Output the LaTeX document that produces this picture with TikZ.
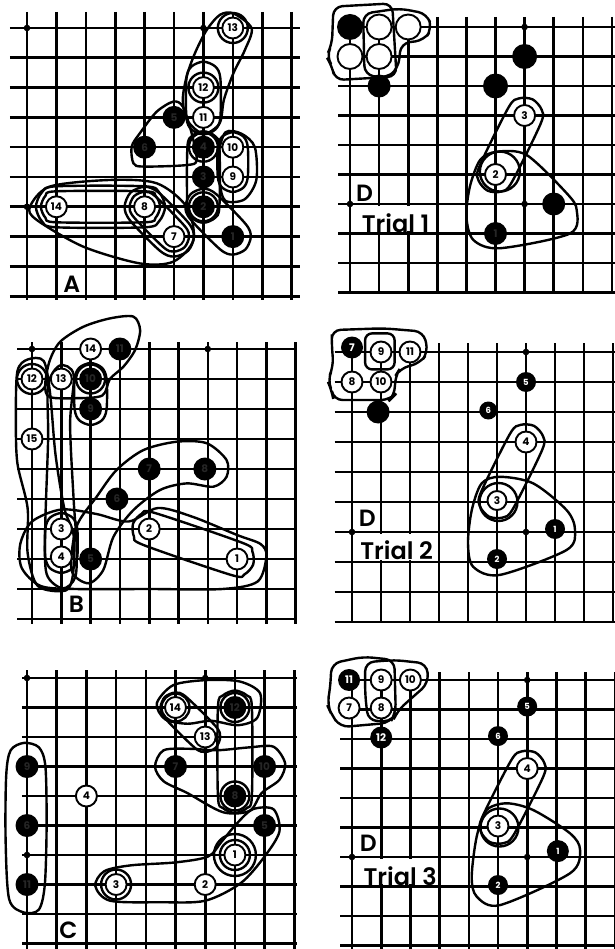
\documentclass[tikz,border=0pt]{standalone}
\usepackage{fontspec}
\setmainfont{Poppins}
\newfontfamily\labfont{Poppins SemiBold}
\usetikzlibrary{calc,backgrounds}

\newcommand{\stonefont}{\bfseries\fontsize{10.5}{10.5}\selectfont}
\newcommand{\smallstonefont}{\bfseries\fontsize{8.5}{8.5}\selectfont}
% closed loop round two stones (or points), #4 = distance from the centres
\newcommand{\capsule}[4][]{%
  \draw[loopline,#1] plot[smooth cycle] coordinates {
    ($(#2)!#4!90:(#3)$) ($(#2)!#4!135:(#3)$) ($(#2)!#4!180:(#3)$)
    ($(#2)!#4!225:(#3)$) ($(#2)!#4!270:(#3)$)
    ($(#3)!#4!90:(#2)$) ($(#3)!#4!135:(#2)$) ($(#3)!#4!180:(#2)$)
    ($(#3)!#4!225:(#2)$) ($(#3)!#4!270:(#2)$)};}

\begin{document}
\begin{tikzpicture}[x=1pt, y=-1pt,
    gridline/.style={line width=2.6pt},
    loopline/.style={line width=2.4pt},
    wstone/.style={circle, draw, line width=1.9pt, fill=white, minimum size=21pt,
                   inner sep=0pt, font=\stonefont},
    bstone/.style={circle, fill=black, minimum size=23pt, inner sep=0pt,
                   font=\stonefont, text=black!85},
    dstone/.style={bstone, minimum size=20pt, font=\smallstonefont, text=white},
    boardlab/.style={font=\labfont\fontsize{23.5}{23.5}\selectfont, inner sep=0pt},
    triallab/.style={font=\labfont\fontsize{24}{24}\selectfont, inner sep=0pt, anchor=base west}
  ]
  \useasboundingbox (0,0) rectangle (614,949);
  \begin{scope}[on background layer]
    \fill[white] (0,0) rectangle (614,949);
  \end{scope}

  % ---------------- A ----------------
  \begin{scope}[shift={(27pt,-28pt)}, x=29.4pt, y=-29.8pt]
    \node[bstone] (a1) at (7,7) {1};
    \node[bstone] (a2) at (6,6) {2};
    \node[bstone] (a3) at (6,5) {3};
    \node[bstone] (a4) at (6,4) {4};
    \node[bstone] (a5) at (5,3) {5};
    \node[bstone] (a6) at (4,4) {6};
    \node[wstone] (a7) at (5,7) {7};
    \node[wstone] (a8) at (4,6) {8};
    \node[wstone] (a9) at (7,5) {9};
    \node[wstone] (a10) at (7,4) {10};
    \node[wstone] (a11) at (6,3) {11};
    \node[wstone] (a12) at (6,2) {12};
    \node[wstone] (a13) at (7,0) {13};
    \node[wstone] (a14) at (1,6) {14};
    \begin{scope}[on background layer]
      \foreach \r in {0,...,9} \draw[gridline] (-0.58,\r) -- (9.3,\r);
      \foreach \c in {0,...,9} \draw[gridline] (\c,-0.54) -- (\c,9.13);
      \foreach \s in {(0,0),(0,6),(6,0),(6,6)} \fill \s circle[radius=3.3pt];
      % loops
      \draw[loopline] plot[smooth cycle] coordinates {(7.02,-0.49) (7.64,0.01) (7.41,0.74)
        (7.02,1.52) (6.7,2.4) (6.55,3.2) (6.0,3.55) (5.45,3.1) (5.3,2.4) (5.43,1.63)
        (5.71,0.85) (6.11,0.07) (6.56,-0.44)};
      \draw[loopline] (a13) circle[radius=15pt];
      \draw[loopline] (a12) circle[radius=15pt];
      \capsule{6,1.7}{a11}{17pt}
      \draw[loopline] plot[smooth cycle] coordinates {(3.56,3.98) (3.62,4.54) (3.96,4.65)
        (5.43,4.6) (5.77,4.43) (5.6,3.53) (5.3,2.64) (4.98,2.47) (4.41,2.81) (3.84,3.53)};
      \capsule{a4}{a2}{16pt}
      \draw[loopline] (a4) circle[radius=14.5pt];
      \draw[loopline] (a2) circle[radius=14.5pt];
      \capsule{a10}{a9}{15pt}
      \draw[loopline] plot[smooth cycle] coordinates {(6.75,3.5) (7.3,3.55) (7.75,4.0)
        (7.8,5.1) (7.4,5.75) (6.75,5.8) (6.55,5.2) (6.5,4.3)};
      \capsule{a2}{a1}{18pt}
      \capsule{a14}{a8}{15.5pt}
      \capsule{a14}{a8}{20.5pt}
      \draw[loopline] plot[smooth cycle] coordinates {(0.1,6.0) (0.78,5.32) (2.82,5.1)
        (4.41,5.21) (5.43,6.0) (5.66,7.11) (4.98,7.84) (3.84,7.9) (1.92,7.34) (0.33,6.44)};
      \capsule{a8}{a7}{15pt}
      \capsule{a8}{a7}{20pt}
    \end{scope}
    \node[boardlab] (alab) at (1.52,8.6) {A};
  \end{scope}

  % ---------------- B ----------------
  \begin{scope}[shift={(32pt,-349pt)}, x=29.3pt, y=-30pt]
    \node[wstone] (b1) at (7,7) {1};
    \node[wstone] (b2) at (4,6) {2};
    \node[wstone] (b3) at (1,6) {3};
    \node[wstone] (b4) at (1,6.93) {4};
    \node[bstone] (b5) at (2,7) {5};
    \node[bstone] (b6) at (2.9,5) {6};
    \node[bstone] (b7) at (4,4) {7};
    \node[bstone] (b8) at (5.9,4) {8};
    \node[bstone] (b9) at (2,2) {9};
    \node[bstone] (b10) at (2,1) {10};
    \node[bstone] (b11) at (3,0) {11};
    \node[wstone] (b12) at (0,1) {12};
    \node[wstone] (b13) at (1,1) {13};
    \node[wstone] (b14) at (2,0) {14};
    \node[wstone] (b15) at (0,3) {15};
    \begin{scope}[on background layer]
      \foreach \r in {0,...,9} \draw[gridline] (-0.5,\r) -- (9.05,\r);
      \foreach \c in {0,...,9} \draw[gridline] (\c,-0.23) -- (\c,9.15);
      \foreach \s in {(0,0),(6,0)} \fill \s circle[radius=3.3pt];
      % loops
      \draw[loopline] plot[smooth cycle] coordinates {(0.96,-0.24) (1.75,-0.74) (2.66,-1.02)
        (3.46,-1.08) (3.69,-0.63) (3.52,0.03) (3.12,0.59) (2.66,1.0) (2.4,1.55) (1.5,1.64)
        (0.6,1.6) (0.45,1.2) (0.6,0.4)};
      \draw[loopline] (b12) circle[radius=15pt];
      \draw[loopline] (b10) circle[radius=14.5pt];
      \capsule{b10}{b9}{16pt}
      \draw[loopline] plot[smooth cycle] coordinates {(-0.5,0.75) (-0.15,0.35) (0.4,0.4)
        (0.62,1.5) (0.8,3.5) (1.1,5.3) (1.42,6.2) (1.4,7.5) (1.15,8.05) (0.2,7.9)
        (-0.15,6.8) (-0.15,5.3) (-0.5,3.8) (-0.55,2.3)};
      \draw[loopline] plot[smooth cycle] coordinates {(0.95,0.55) (1.42,0.85) (1.3,2.5)
        (1.42,5.0) (1.52,6.5) (1.48,7.6) (1.05,7.98) (0.5,7.5) (0.45,6.0) (0.55,3.0) (0.55,1.2)};
      \capsule{b3}{b4}{16pt}
      \draw[loopline] plot[smooth cycle] coordinates {(1.92,7.81) (1.35,7.37) (1.52,5.92)
        (2.21,4.92) (2.89,4.03) (3.8,3.37) (4.94,3.09) (5.96,3.14) (6.64,3.7) (6.64,4.26)
        (6.19,4.59) (5.28,4.48) (4.37,4.7) (3.46,5.37) (2.78,6.26) (2.43,7.37)};
      \capsule{b2}{b1}{17pt}
      \draw[loopline] plot[smooth cycle] coordinates {(8.0,6.9) (7.7,7.75) (6.5,8.0) (4,8.0)
        (1.5,8.0) (0.3,7.9) (-0.35,7.3) (-0.4,6.5) (0.0,5.75) (1.0,5.35) (2.2,5.5) (3.3,5.75)
        (4.3,5.3) (5.5,5.6) (7.0,6.2) (7.8,6.5)};
    \end{scope}
    \node[boardlab] (blab) at (1.52,8.5) {B};
  \end{scope}

  % ---------------- C ----------------
  \begin{scope}[shift={(27pt,-678pt)}, x=29.7pt, y=-29.5pt]
    \node[wstone] (c1) at (7,6) {1};
    \node[wstone] (c2) at (6,7) {2};
    \node[wstone] (c3) at (3,7) {3};
    \node[wstone] (c4) at (2,4) {4};
    \node[bstone] (c5) at (8,5) {5};
    \node[bstone] (c6) at (0,5) {6};
    \node[bstone] (c7) at (5,3) {7};
    \node[bstone] (c8) at (7,4) {8};
    \node[bstone] (c9) at (0,3) {9};
    \node[bstone] (c10) at (8,3) {10};
    \node[bstone] (c11) at (0,7) {11};
    \node[bstone] (c12) at (7,1) {12};
    \node[wstone] (c13) at (6,2) {13};
    \node[wstone] (c14) at (5,1) {14};
    \begin{scope}[on background layer]
      \foreach \r in {0,...,9} \draw[gridline] (-0.17,\r) -- (9.1,\r);
      \foreach \c in {0,...,9} \draw[gridline] (\c,-0.27) -- (\c,9.3);
      \foreach \s in {(0,0),(6,0),(0,6)} \fill \s circle[radius=3.3pt];
      % loops
      \draw[loopline] plot[smooth cycle] coordinates {(-0.1,2.2) (0.4,2.35) (0.62,3.0)
        (0.66,5.0) (0.6,7.0) (0.4,7.85) (-0.1,7.95) (-0.6,7.5) (-0.72,5.5) (-0.7,3.3) (-0.55,2.45)};
      \draw[loopline] plot[smooth cycle] coordinates {(2.3,7.05) (2.6,6.55) (3.5,6.35)
        (5.0,6.25) (6.1,6.05) (6.55,5.55) (7.05,4.95) (7.6,4.45) (8.3,4.45) (8.5,5.2)
        (8.0,6.05) (7.2,6.95) (6.0,7.55) (4.5,7.6) (2.8,7.55)};
      \draw[loopline] (c3) circle[radius=15pt];
      \draw[loopline] (c1) circle[radius=15pt];
      \draw[loopline] (c1) circle[radius=21pt];
      \draw[loopline] plot[smooth cycle] coordinates {(4.31,3.0) (4.6,2.45) (5.5,2.4)
        (6.4,2.45) (7.5,2.35) (8.3,2.33) (8.69,2.89) (8.5,3.45) (7.9,3.9) (7.5,4.5)
        (6.6,4.55) (5.4,3.9) (4.6,3.5)};
      \capsule{c12}{c8}{17pt}
      \draw[loopline] (c12) circle[radius=14.5pt];
      \draw[loopline] (c8) circle[radius=14.5pt];
      \draw[loopline] plot[smooth cycle] coordinates {(4.37,0.86) (4.93,0.24) (6.05,0.07)
        (7.17,0.12) (7.85,0.52) (7.75,1.35) (7.1,1.6) (6.2,1.45) (5.4,1.55) (4.65,1.4)};
      \capsule{c14}{c13}{15pt}
      \draw[loopline] (c14) circle[radius=14pt];
    \end{scope}
    \node[boardlab] (clab) at (1.39,8.54) {C};
  \end{scope}

  % ---------------- D, trial 1 ----------------
  \begin{scope}[shift={(350pt,-27pt)}, x=29.1pt, y=-29.5pt]
    \node[bstone, minimum size=26pt] (d1k1) at (0,0) {};
    \node[wstone, minimum size=25pt] (d1k2) at (1,0) {};
    \node[wstone, minimum size=25pt] (d1k3) at (2,0) {};
    \node[wstone, minimum size=25pt] (d1k4) at (0,1) {};
    \node[wstone, minimum size=25pt] (d1k5) at (1,1) {};
    \node[bstone] (d1k6) at (1,2) {};
    \node[bstone, minimum size=25pt] (d1k7) at (6,1) {};
    \node[bstone, minimum size=25pt] (d1k8) at (5,2) {};
    \node[wstone] (d1n3) at (6,3) {3};
    \node[wstone] (d1n2) at (5,5) {2};
    \node[bstone] (d1k9) at (7,6) {};
    \node[bstone] (d1n1) at (5,7) {1};
    \begin{scope}[on background layer]
      \foreach \c in {0,...,9} \draw[gridline] (\c,-0.34) -- (\c,9.05);
      \fill[white] (0.08,6.07) rectangle (2.92,6.93);
      \foreach \r in {0,...,9} \draw[gridline] (-0.41,\r) -- (9.2,\r);
      \foreach \s in {(6,0),(0,6),(6,6)} \fill \s circle[radius=3.3pt];
      % loops
      \draw[loopline, rounded corners=9pt] (-0.57,-0.69) -- (1.45,-0.8) -- (1.6,1.68)
        -- (-0.52,1.8) -- (-0.62,1.3) -- (-0.82,1.0) -- (-0.62,0.6) -- cycle;
      \draw[loopline, rounded corners=9pt] (0.45,-0.45) -- (1.7,-0.63) -- (2.65,-0.45)
        -- (2.82,0.05) -- (2.55,0.45) -- (1.75,0.55) -- (1.66,1.4) -- (1.25,1.74)
        -- (0.5,1.62) -- cycle;
      \capsule{d1n3}{d1n2}{18pt}
      \draw[loopline] (5.15,4.9) circle[radius=20pt];
      \draw[loopline] plot[smooth cycle] coordinates {(5.04,4.23) (6.07,4.34) (7.45,5.64)
        (7.79,6.2) (7.56,7.0) (5.15,7.5) (4.24,7.22) (4.0,6.43) (4.12,5.41) (4.47,4.51)};
    \end{scope}
    \node[boardlab] (d1lab) at (0.5,5.64) {D};
    \node[triallab] (d1trial) at (0.4,6.95) {Trial 1};
  \end{scope}

  % ---------------- D, trial 2 ----------------
  \begin{scope}[shift={(352pt,-352pt)}, x=29pt, y=-30pt]
    \node[bstone, minimum size=22pt, text=white] (d2n7) at (0,-0.15) {7};
    \node[wstone] (d2n9) at (1,0) {9};
    \node[wstone] (d2n11) at (2,0) {11};
    \node[wstone] (d2n8) at (0,1) {8};
    \node[wstone] (d2n10) at (1,1) {10};
    \node[bstone] (d2k1) at (0.9,2) {};
    \node[dstone] (d2n5) at (6,1) {5};
    \node[dstone, minimum size=18pt] (d2n6) at (4.7,1.95) {6};
    \node[wstone] (d2n4) at (6,3) {4};
    \node[wstone, minimum size=19pt] (d2n3) at (5,4.95) {3};
    \node[dstone] (d2n1) at (7,5.9) {1};
    \node[dstone] (d2n2) at (5,6.9) {2};
    \begin{scope}[on background layer]
      \foreach \c in {0,...,9} \draw[gridline] (\c,-0.3) -- (\c,9.02);
      \fill[white] (0.08,6.07) rectangle (2.93,6.93);
      \foreach \r in {0,...,9} \draw[gridline] (-0.6,\r) -- (9.2,\r);
      \foreach \s in {(6,0),(0,6),(6,6)} \fill \s circle[radius=3.3pt];
      % loops
      \draw[loopline, rounded corners=9pt] (-0.7,-0.73) -- (1.08,-0.79) -- (2.46,-0.68)
        -- (2.63,0) -- (2.34,0.38) -- (1.66,0.54) -- (1.48,0.82) -- (1.48,1.43)
        -- (1.31,1.6) -- (-0.64,1.6) -- (-0.7,1.27) -- (-0.85,0.95) -- (-0.64,0.49)
        -- (-0.7,-0.29) -- cycle;
      \draw[loopline, rounded corners=7pt] (0.45,-0.62) rectangle (1.47,0.58);
      \capsule{d2n4}{d2n3}{18pt}
      \draw[loopline] (5.05,5.0) circle[radius=19pt];
      \draw[loopline] plot[smooth cycle] coordinates {(5.1,4.16) (6.25,4.38) (7.4,5.27)
        (7.69,5.93) (7.4,6.6) (5.1,7.43) (4.18,7.16) (4.0,6.38) (4.13,5.27) (4.47,4.38)};
    \end{scope}
    \node[boardlab] (d2lab) at (0.53,5.54) {D};
    \node[triallab] (d2trial) at (0.28,6.93) {Trial 2};
  \end{scope}

  % ---------------- D, trial 3 ----------------
  \begin{scope}[shift={(352pt,-680pt)}, x=29.2pt, y=-29.5pt]
    \node[bstone, minimum size=22pt, text=white] (d3n11) at (-0.1,0) {11};
    \node[wstone] (d3n9) at (1,0) {9};
    \node[wstone] (d3n10) at (2,0) {10};
    \node[wstone] (d3n7) at (-0.1,0.95) {7};
    \node[wstone] (d3n8) at (1,0.95) {8};
    \node[bstone, minimum size=22pt, text=white] (d3n12) at (1,1.95) {12};
    \node[dstone] (d3n5) at (6,0.9) {5};
    \node[dstone] (d3n6) at (5,1.9) {6};
    \node[wstone] (d3n4) at (6,3) {4};
    \node[wstone] (d3n3) at (5,4.95) {3};
    \node[dstone, minimum size=22pt] (d3n1) at (7.05,5.8) {1};
    \node[dstone] (d3n2) at (5,6.95) {2};
    \begin{scope}[on background layer]
      \foreach \c in {0,...,9} \draw[gridline] (\c,-0.27) -- (\c,9.3);
      \fill[white] (0.08,6.07) rectangle (2.93,6.93);
      \foreach \r in {0,...,9} \draw[gridline] (-0.41,\r) -- (9.2,\r);
      \foreach \s in {(6,0),(0,6),(6,6)} \fill \s circle[radius=3.3pt];
      % loops
      \draw[loopline, rounded corners=9pt] (-0.7,-0.56) -- (0.39,-0.79) -- (1.45,-0.68)
        -- (1.5,1.13) -- (1.3,1.45) -- (-0.41,1.6) -- (-0.72,1.13) -- (-0.85,0.85)
        -- (-0.75,0.3) -- cycle;
      \draw[loopline, rounded corners=9pt] (0.45,-0.6) -- (1.45,-0.68) -- (2.56,-0.56)
        -- (2.62,0.11) -- (2.1,0.56) -- (1.55,1.05) -- (1.4,1.4) -- (0.55,1.38)
        -- (0.45,0.5) -- cycle;
      \capsule{d3n4}{d3n3}{18pt}
      \draw[loopline] (5.05,5.0) circle[radius=19pt];
      \draw[loopline] plot[smooth cycle] coordinates {(5.3,4.18) (6.21,4.41) (7.47,5.2)
        (7.81,5.76) (7.47,6.55) (5.07,7.63) (4.27,7.34) (4.1,6.67) (4.27,5.31) (4.61,4.41)};
    \end{scope}
    \node[boardlab] (d3lab) at (0.56,5.54) {D};
    \node[triallab] (d3trial) at (0.39,6.97) {Trial 3};
  \end{scope}
\end{tikzpicture}
\end{document}
